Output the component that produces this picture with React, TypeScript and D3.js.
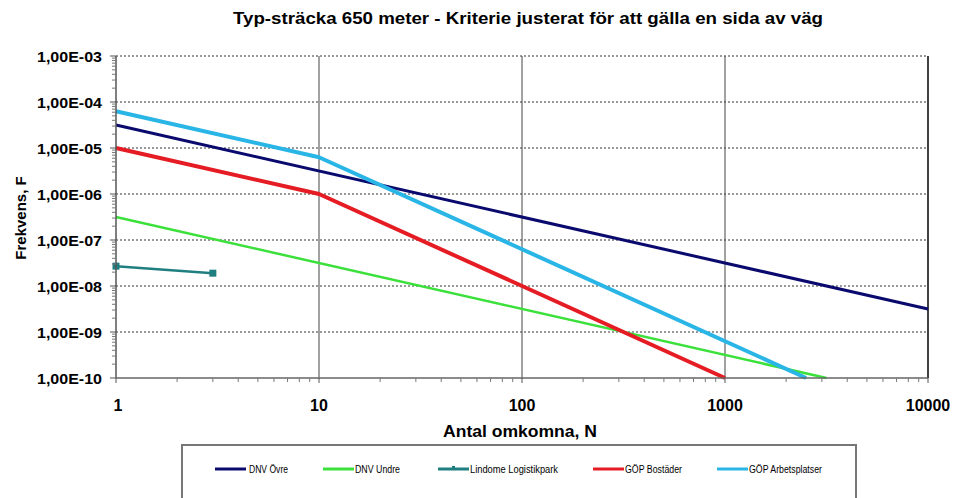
import React from "react";
import * as d3 from "d3";

const W = 958;
const H = 498;

const title = "Typ-sträcka 650 meter - Kriterie justerat för att gälla en sida av väg";
const xTitle = "Antal omkomna, N";
const yTitle = "Frekvens, F";

const xTicks = [1, 10, 100, 1000, 10000];
const yTicks = [1e-3, 1e-4, 1e-5, 1e-6, 1e-7, 1e-8, 1e-9, 1e-10];
const yTickLabels = ["1,00E-03", "1,00E-04", "1,00E-05", "1,00E-06", "1,00E-07", "1,00E-08", "1,00E-09", "1,00E-10"];

const seriesNames = ["DNV Övre", "DNV Undre", "Lindome Logistikpark", "GÖP Bostäder", "GÖP Arbetsplatser"];
const seriesColors = ["#0a0a6e", "#3be03b", "#1f7f80", "#e51c23", "#29b5e6"];
const seriesWidths = [3, 2.5, 2.5, 4, 4];

const dnvOvreN = [1, 10000];
const dnvOvreF = [3.16e-5, 3.16e-9];
const dnvUndreN = [1, 3162];
const dnvUndreF = [3.16e-7, 1e-10];
const lindomeN = [1, 3];
const lindomeF = [2.7e-8, 1.9e-8];
const gopBostN = [1, 10, 1000];
const gopBostF = [1e-5, 1e-6, 1e-10];
const gopArbN = [1, 10, 2510];
const gopArbF = [6.3e-5, 6.3e-6, 1e-10];

const seriesN = [dnvOvreN, dnvUndreN, lindomeN, gopBostN, gopArbN];
const seriesF = [dnvOvreF, dnvUndreF, lindomeF, gopBostF, gopArbF];

const FONT = "'Liberation Sans', Arial, sans-serif";
const NARROW = "'Liberation Sans Narrow', 'Arial Narrow', 'Liberation Sans', Arial, sans-serif";

export default function App() {
  const left = 116, right = 928, top = 56, bottom = 378;
  const x = d3.scaleLog().domain([1, 10000]).range([left, right]);
  const y = d3.scaleLog().domain([1e-10, 1e-3]).range([bottom, top]);
  const line = d3.line<[number, number]>().x(d => x(d[0])).y(d => y(d[1]));

  const xMinor: number[] = [];
  for (let d = 1; d < 10000; d *= 10) for (let k = 2; k <= 9; k++) xMinor.push(d * k);
  const yMinor: number[] = [];
  for (let d = 1e-10; d < 1e-3 * 0.99; d *= 10) for (let k = 2; k <= 9; k++) yMinor.push(d * k);

  const legendItems = [
    { x0: 215, x1: 246, tx: 249, len: 39 },
    { x0: 323, x1: 354, tx: 355, len: 45 },
    { x0: 438, x1: 469, tx: 470, len: 88 },
    { x0: 593, x1: 624, tx: 625, len: 57 },
    { x0: 717, x1: 748, tx: 749, len: 73 },
  ];
  const legendY = 469;

  return (
    <svg width={W} height={H} style={{ position: "absolute", left: 0, top: 0, background: "#fff" }} fontFamily={FONT}>
      <rect x={0} y={0} width={W} height={H} fill="#fff" />
      <text x={233} y={24} fontSize={16} fontWeight="bold" fill="#000" textLength={590} lengthAdjust="spacingAndGlyphs">{title}</text>

      {/* horizontal dashed grid */}
      {yTicks.slice(0, 7).map((t, i) => (
        <line key={"hg" + i} x1={left} x2={right} y1={y(t)} y2={y(t)} stroke="#333" strokeWidth={1} strokeDasharray="2,2" />
      ))}
      {/* vertical grid */}
      {xTicks.slice(1, 4).map((t, i) => (
        <line key={"vg" + i} x1={x(t)} x2={x(t)} y1={top} y2={bottom} stroke="#444" strokeWidth={1} />
      ))}
      <line x1={right} x2={right} y1={top} y2={bottom} stroke="#000" strokeWidth={1.5} />

      {/* series */}
      {seriesNames.map((name, i) => {
        const pts: [number, number][] = seriesN[i].map((n, j) => [n, seriesF[i][j]]);
        return (
          <g key={name}>
            <path d={line(pts) || ""} fill="none" stroke={seriesColors[i]} strokeWidth={seriesWidths[i]} strokeLinejoin="round" />
            {i === 2 && pts.map((p, j) => (
              <rect key={j} x={x(p[0]) - 3.5} y={y(p[1]) - 3.5} width={7} height={7} fill={seriesColors[i]} />
            ))}
          </g>
        );
      })}

      {/* axes */}
      <line x1={left} x2={left} y1={top} y2={bottom} stroke="#555" strokeWidth={1.5} />
      <line x1={left} x2={right} y1={bottom} y2={bottom} stroke="#666" strokeWidth={1.5} />
      {yTicks.map((t, i) => (
        <g key={"yt" + i}>
          <line x1={left - 6} x2={left} y1={y(t)} y2={y(t)} stroke="#555" strokeWidth={1} />
          <text x={102} y={y(t) + 5.5} textAnchor="end" fontSize={15} fontWeight="bold" fill="#000" textLength={65} lengthAdjust="spacingAndGlyphs">{yTickLabels[i]}</text>
        </g>
      ))}
      {yMinor.map((t, i) => (
        <line key={"ym" + i} x1={left - 4} x2={left} y1={y(t)} y2={y(t)} stroke="#777" strokeWidth={1} />
      ))}
      {xTicks.map((t, i) => (
        <g key={"xt" + i}>
          <line x1={x(t)} x2={x(t)} y1={bottom} y2={bottom + 5} stroke="#555" strokeWidth={1} />
          <text x={x(t) + (i === 0 ? 2 : 0)} y={411} textAnchor="middle" fontSize={16} fontWeight="bold" fill="#000">{t}</text>
        </g>
      ))}
      {xMinor.map((t, i) => (
        <line key={"xm" + i} x1={x(t)} x2={x(t)} y1={bottom} y2={bottom + 4} stroke="#777" strokeWidth={1} />
      ))}

      <text x={520} y={437} textAnchor="middle" fontSize={17} fontWeight="bold" fill="#000" textLength={154} lengthAdjust="spacingAndGlyphs">{xTitle}</text>
      <text transform={`translate(26,218) rotate(-90)`} textAnchor="middle" fontSize={15} fontWeight="bold" fill="#000">{yTitle}</text>

      {/* legend */}
      <rect x={182} y={445} width={674} height={60} fill="#fff" stroke="#777" strokeWidth={2} />
      {seriesNames.map((name, i) => (
        <g key={"lg" + i}>
          <line x1={legendItems[i].x0} x2={legendItems[i].x1} y1={legendY} y2={legendY} stroke={seriesColors[i]} strokeWidth={3} />
          {i === 2 && <rect x={(legendItems[i].x0 + legendItems[i].x1) / 2 - 1.5} y={legendY - 3} width={3} height={3} fill={seriesColors[i]} />}
          <text x={legendItems[i].tx} y={legendY + 3.5} fontSize={10} fontFamily={NARROW} fill="#000" textLength={legendItems[i].len} lengthAdjust="spacingAndGlyphs">{name}</text>
        </g>
      ))}
    </svg>
  );
}
